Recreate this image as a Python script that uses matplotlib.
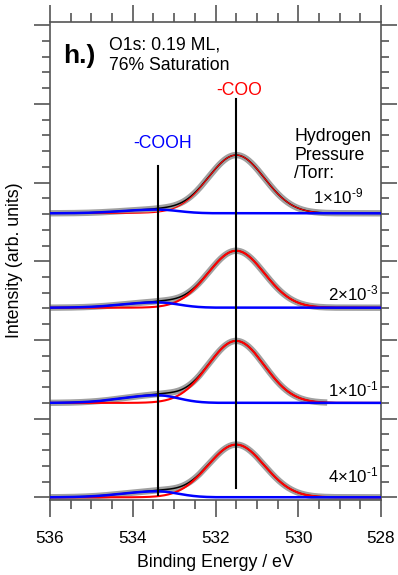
import numpy as np
import matplotlib
matplotlib.use('Agg')
import matplotlib.pyplot as plt
from matplotlib.ticker import MultipleLocator, FormatStrFormatter

plt.rcParams['font.family'] = ['Liberation Sans', 'DejaVu Sans']
plt.rcParams['mathtext.fontset'] = 'custom'
plt.rcParams['mathtext.rm'] = 'Liberation Sans'
plt.rcParams['mathtext.it'] = 'Liberation Sans:italic'
plt.rcParams['mathtext.bf'] = 'Liberation Sans:bold'

# ---------------- data ----------------
pressure_labels = [r'1×10$^{\text{-9}}$', r'2×10$^{\text{-3}}$',
                   r'1×10$^{\text{-1}}$', r'4×10$^{\text{-1}}$']
offsets = [3.61, 2.41, 1.20, 0.0]                 # stacking offsets (arb. units)
coo_center = 531.5                                # eV, -COO component
cooh_center = 533.4                               # eV, -COOH component
coo_height = [0.74, 0.724, 0.788, 0.67]           # fitted -COO peak heights
cooh_height = [0.047, 0.068, 0.097, 0.076]        # fitted -COOH peak heights
coo_sigma = 0.68                                  # eV
cooh_sigma_left = 0.85                            # eV (high BE side)
cooh_sigma_right = 0.50                           # eV (low BE side)
data_low_end = [528.0, 528.0, 529.3, 528.0]       # lowest BE measured per spectrum
red_widths = [0.8, 1.5, 1.5, 1.5]
label_baselines_px = [203.3, 300.0, 396.7, 482.3]
label_right_px = [363, 378, 378, 378]
x_ticks = [536, 534, 532, 530, 528]

# ---------------- figure ----------------
W, H = 398, 575
fig = plt.figure(figsize=(W / 100, H / 100), dpi=100)
L, R, T, B = 50, 381, 22, 500
ax = fig.add_axes([L / W, 1 - B / H, (R - L) / W, (B - T) / H])

y0_px, unit_px = 497.3, 78.67
ax.set_xlim(536, 528)
ax.set_ylim((y0_px - B) / unit_px, (y0_px - T) / unit_px)

E = np.linspace(528, 536, 641)


def coo(i):
    return coo_height[i] * np.exp(-0.5 * ((E - coo_center) / coo_sigma) ** 2)


def cooh(i):
    s = np.where(E >= cooh_center, cooh_sigma_left, cooh_sigma_right)
    return cooh_height[i] * np.exp(-0.5 * ((E - cooh_center) / s) ** 2)


for i, off in enumerate(offsets):
    red = coo(i) + off
    blue = cooh(i) + off
    total = coo(i) + cooh(i) + off
    m = E >= data_low_end[i]
    ax.plot(E[m], total[m], color='#a0a0a0', lw=4.6, solid_capstyle='butt', zorder=2)
    ax.plot(E, total, color='black', lw=1.1, zorder=3)
    ax.plot(E, red, color='#ff0000', lw=red_widths[i], zorder=4)
    ax.plot(E, blue, color='#0000ff', lw=1.8, zorder=5)

# reference lines
ax.plot([coo_center, coo_center], [(y0_px - 99) / unit_px, (y0_px - 488) / unit_px],
        color='black', lw=1.5, zorder=6)
ax.plot([cooh_center, cooh_center], [(y0_px - 166) / unit_px, (y0_px - 495) / unit_px],
        color='black', lw=1.5, zorder=6)

# ticks / spines
ax.set_xticks(x_ticks)
ax.xaxis.set_minor_locator(MultipleLocator(0.5))
ax.xaxis.set_major_formatter(FormatStrFormatter('%d'))
ax.yaxis.set_major_locator(MultipleLocator(1))
ax.yaxis.set_minor_locator(MultipleLocator(0.2))
axcol = '#555555'
for sp in ax.spines.values():
    sp.set_color(axcol)
    sp.set_linewidth(1.2)
ax.tick_params(which='both', direction='out', top=True, right=True, colors=axcol,
               width=1.2, labelcolor='black')
ax.tick_params(axis='x', which='major', length=12.2, labelsize=12.3, pad=10)
ax.tick_params(axis='x', which='minor', length=6.8)
ax.tick_params(axis='y', which='major', length=11.5, labelleft=False)
ax.tick_params(axis='y', which='minor', length=5.8)


def ft(x, y, s, **kw):
    fig.text(x / W, 1 - y / H, s, **kw)


fs = 12.7
ft(215.5, 567.3, 'Binding Energy / eV', ha='center', va='baseline', fontsize=12.8)
ft(14.5, 260, 'Intensity (arb. units)', ha='center', va='center', rotation=90, fontsize=12.8)
ft(63, 63.3, 'h.)', ha='left', va='baseline', fontsize=19, fontweight='bold')
ft(109, 50, 'O1s: 0.19 ML,', ha='left', va='baseline', fontsize=fs)
ft(109, 70, '76% Saturation', ha='left', va='baseline', fontsize=fs)
ft(239.5, 95, '-COO', ha='center', va='baseline', fontsize=fs, color='#ff0000')
ft(163, 148.3, '-COOH', ha='center', va='baseline', fontsize=fs, color='#0000ff')
ft(294, 140.7, 'Hydrogen', ha='left', va='baseline', fontsize=fs)
ft(294, 160, 'Pressure', ha='left', va='baseline', fontsize=fs)
ft(294, 178.3, '/Torr:', ha='left', va='baseline', fontsize=fs)
for lab, yb, xr in zip(pressure_labels, label_baselines_px, label_right_px):
    ft(xr, yb, lab, ha='right', va='baseline', fontsize=12.2)

fig.savefig('out.png', dpi=100)
